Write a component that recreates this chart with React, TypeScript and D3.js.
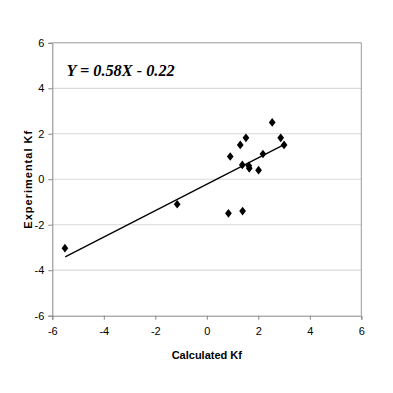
import React, { useEffect, useRef } from "react";
import * as d3 from "d3";

// values
const calcX = [2.54, 1.52, 1.3, 2.87, 3.0, 0.91, 2.18, 1.38, 1.63, 1.65, 2.01, 0.84, 1.39, -1.15, -5.51];
const expY = [2.5, 1.82, 1.51, 1.82, 1.51, 1.0, 1.11, 0.63, 0.59, 0.48, 0.4, -1.5, -1.4, -1.1, -3.03];
const ticks = [-6, -4, -2, 0, 2, 4, 6];
const slope = 0.58;
const intercept = -0.22;
const fitRange = [-5.5, 3.0];

export default function App() {
  const ref = useRef<SVGSVGElement>(null);

  useEffect(() => {
    const svg = d3.select(ref.current);
    svg.selectAll("*").remove();

    const x = d3.scaleLinear().domain([-6, 6]).range([52.3, 361.3]);
    const y = d3.scaleLinear().domain([-6, 6]).range([315.7, 42.8]);

    // horizontal gridlines
    svg.append("g")
      .selectAll("line")
      .data(ticks.filter((t) => t > -6 && t < 6))
      .enter()
      .append("line")
      .attr("x1", x(-6))
      .attr("x2", x(6))
      .attr("y1", (d) => y(d))
      .attr("y2", (d) => y(d))
      .attr("stroke", "#d9d9d9")
      .attr("stroke-width", 1.2);

    // plot border top/right
    svg.append("path")
      .attr("d", `M${x(-6)},${y(6)}H${x(6)}V${y(-6)}`)
      .attr("fill", "none")
      .attr("stroke", "#999")
      .attr("stroke-width", 1);

    const yAxis = svg.append("g")
      .attr("transform", `translate(${x(-6)},0)`)
      .call(d3.axisLeft(y).tickValues(ticks).tickSize(4).tickPadding(4).tickFormat(d3.format("d")));
    const xAxis = svg.append("g")
      .attr("transform", `translate(0,${y(-6)})`)
      .call(d3.axisBottom(x).tickValues(ticks).tickSize(4).tickPadding(8).tickFormat(d3.format("d")));

    [xAxis, yAxis].forEach((g) => {
      g.select(".domain").attr("stroke", "#888");
      g.selectAll(".tick line").attr("stroke", "#888");
      g.selectAll("text")
        .attr("font-family", "Liberation Sans, Arial, sans-serif")
        .attr("font-size", 11)
        .attr("fill", "#000")
        .text((d: any) => String(d));
    });

    // trend line
    svg.append("line")
      .attr("x1", x(fitRange[0]))
      .attr("y1", y(slope * fitRange[0] + intercept))
      .attr("x2", x(fitRange[1]))
      .attr("y2", y(slope * fitRange[1] + intercept))
      .attr("stroke", "#000")
      .attr("stroke-width", 1.3);

    // diamonds
    const diamond = d3.symbol().type(d3.symbolDiamond2).size(40);
    svg.append("g")
      .selectAll("path")
      .data(calcX.map((v, i) => [v, expY[i]]))
      .enter()
      .append("path")
      .attr("d", diamond)
      .attr("transform", (d) => `translate(${x(d[0])},${y(d[1])}) scale(0.85,1.1)`)
      .attr("fill", "#000");

    svg.append("text")
      .attr("x", 66.5)
      .attr("y", 75.5)
      .attr("font-family", "Liberation Serif, Times New Roman, serif")
      .attr("font-size", 16.3)
      .attr("font-weight", "bold")
      .attr("font-style", "italic")
      .text(`Y = ${slope}X - ${Math.abs(intercept)}`);

    svg.append("text")
      .attr("x", x(0))
      .attr("y", 359)
      .attr("text-anchor", "middle")
      .attr("font-family", "Liberation Sans, Arial, sans-serif")
      .attr("font-size", 11)
      .attr("font-weight", "bold")
      .text("Calculated Kf");

    svg.append("text")
      .attr("transform", `translate(32,${y(0)}) rotate(-90)`)
      .attr("text-anchor", "middle")
      .attr("font-family", "Liberation Sans, Arial, sans-serif")
      .attr("font-size", 11)
      .attr("font-weight", "bold")
      .attr("letter-spacing", 1)
      .text("Experimental Kf");
  }, []);

  return (
    <svg
      ref={ref}
      width={393}
      height={393}
      style={{ position: "absolute", left: 0, top: 0, background: "#fff" }}
    />
  );
}
